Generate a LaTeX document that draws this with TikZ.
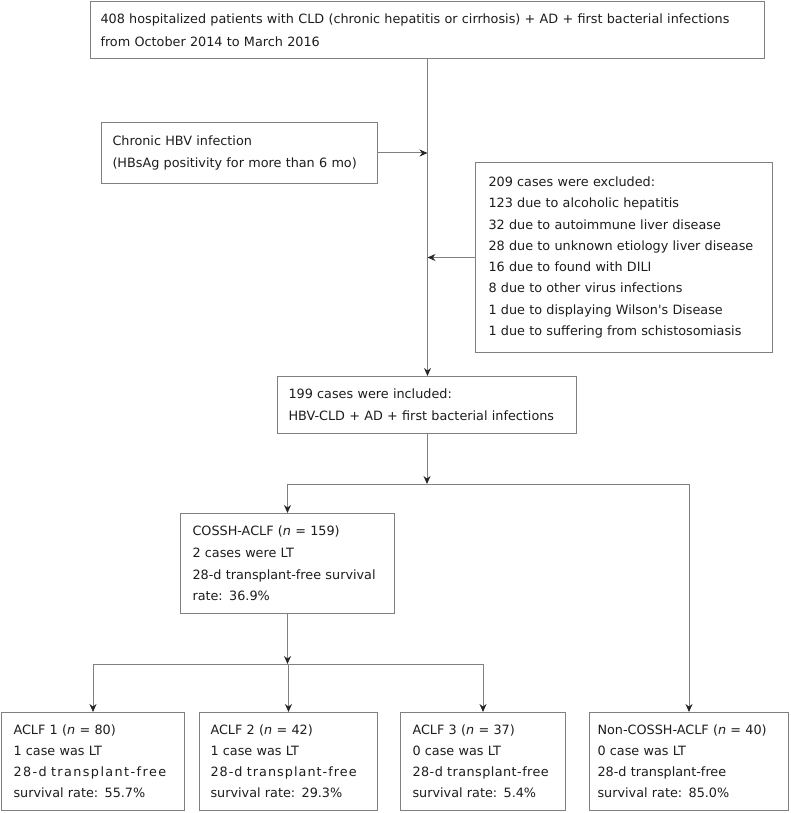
\documentclass[tikz,border=0pt]{standalone}
\usepackage{fontspec}
\setmainfont{DejaVu Sans}[Ligatures=TeXOff]
\usetikzlibrary{arrows.meta}
\definecolor{linegray}{RGB}{128,128,128}
\definecolor{textgray}{RGB}{30,28,28}

\begin{document}
\begin{tikzpicture}[x=1pt, y=-1pt,
   box/.style={draw=linegray, line width=1pt, anchor=north west, align=left,
               text=textgray, inner ysep=0pt},
   arr/.style={draw=linegray, line width=1pt,
               -{Stealth[length=8pt, width=7pt, color=black!85]}},
   link/.style={draw=linegray, line width=1pt}]
   \useasboundingbox (0,0) rectangle (790,813);

   % screening
   \node[box, text width=654pt, inner xsep=10pt, minimum height=57pt,
         font=\fontsize{12.8}{23}\selectfont] (S) at (90,1)
        {408 hospitalized patients with CLD (chronic hepatitis or cirrhosis) + AD + first bacterial infections\\
         from October 2014 to March 2016};
   \node[box, text width=254pt, inner xsep=11pt, minimum height=61pt,
         font=\fontsize{12.8}{22}\selectfont] (H) at (101,122)
        {Chronic HBV infection\\(HBsAg positivity for more than 6 mo)};
   \node[box, text width=271pt, inner xsep=13pt, minimum height=190pt,
         font=\fontsize{12.8}{21.3}\selectfont] (E) at (475,162)
        {209 cases were excluded:\\
         123 due to alcoholic hepatitis\\
         32 due to autoimmune liver disease\\
         28 due to unknown etiology liver disease\\
         16 due to found with DILI\\
         8 due to other virus infections\\
         1 due to displaying Wilson's Disease\\
         1 due to suffering from schistosomiasis};
   \node[box, text width=277pt, inner xsep=11pt, minimum height=57pt,
         font=\fontsize{12.8}{22}\selectfont] (I) at (277,376)
        {199 cases were included:\\HBV-CLD + AD + first bacterial infections};

   % groups
   \node[box, text width=190pt, inner xsep=12pt, minimum height=100pt,
         font=\fontsize{12.8}{21.7}\selectfont] (C) at (180,513)
        {COSSH-ACLF (\textit{n} = 159)\\2 cases were LT\\28-d transplant-free survival\\rate: 36.9\%};
   \node[box, text width=159pt, inner xsep=12pt, minimum height=98pt,
         font=\fontsize{12.8}{21}\selectfont] (A1) at (1,712)
        {ACLF 1 (\textit{n} = 80)\\1 case was LT\\
         {\addfontfeature{LetterSpace=11}28-d transplant-free}\\survival rate: 55.7\%};
   \node[box, text width=156pt, inner xsep=11pt, minimum height=98pt,
         font=\fontsize{12.8}{21}\selectfont] (A2) at (199,712)
        {ACLF 2 (\textit{n} = 42)\\1 case was LT\\
         {\addfontfeature{LetterSpace=8}28-d transplant-free}\\survival rate: 29.3\%};
   \node[box, text width=141pt, inner xsep=12pt, minimum height=98pt,
         font=\fontsize{12.8}{21}\selectfont] (A3) at (400,712)
        {ACLF 3 (\textit{n} = 37)\\0 case was LT\\
         {\addfontfeature{LetterSpace=3.5}28-d transplant-free}\\survival rate: 5.4\%};
   \node[box, text width=183pt, inner xsep=8pt, minimum height=98pt,
         font=\fontsize{12.8}{21}\selectfont] (N) at (589,712)
        {Non-COSSH-ACLF (\textit{n} = 40)\\0 case was LT\\28-d transplant-free\\survival rate: 85.0\%};

   % connectors
   \draw[arr] (S.south) -- (S.south |- I.north);
   \draw[arr] (H.east) -- (H.east -| S.south);
   \draw[arr] (E.west) -- (E.west -| S.south);

   \path (I.south) ++(0,50) coordinate (J1);
   \draw[arr] (I.south) -- (J1);
   \draw[link] (J1 -| C.north) -- (J1 -| N.north);
   \draw[arr] (J1 -| C.north) -- (C.north);
   \draw[arr] (J1 -| N.north) -- (N.north);

   \path (C.south) ++(0,50) coordinate (J2);
   \draw[arr] (C.south) -- (J2);
   \draw[link] (J2 -| A1.north) -- (J2 -| A3.north);
   \foreach \b in {A1,A2,A3}
   \draw[arr] (J2 -| \b.north) -- (\b.north);

\end{tikzpicture}
\end{document}
